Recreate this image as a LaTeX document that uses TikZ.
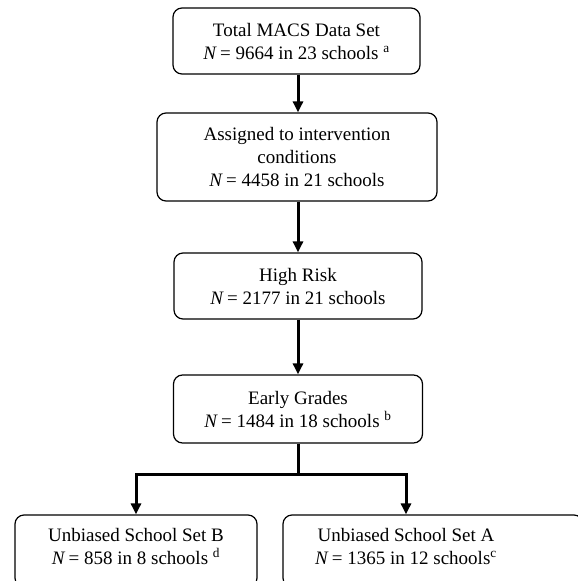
\documentclass[tikz,border=0pt]{standalone}
\usepackage{fontspec}
\setmainfont{Liberation Serif}
\usepackage{tikz}
\usetikzlibrary{positioning,arrows.meta}

\begin{document}
\begin{tikzpicture}[x=1pt,y=-1pt,>={Triangle[length=11pt,width=10pt]},line width=3pt,
  box/.style={draw,line width=1.2pt,rounded corners=9pt,align=center,inner sep=0pt,
    font=\fontsize{19}{23}\selectfont},
  txt/.style={align=center,inner sep=0pt,font=\fontsize{19}{23}\selectfont}]

    \useasboundingbox (0,0) rectangle (578,581);
    \clip (0,0) rectangle (578,581);

    % The boxes
	\node [box,minimum width=247pt,minimum height=66pt] at (296.5,41) (total)
	  {Total MACS Data Set\\\textit{N}\,= 9664 in 23 schools \textsuperscript{a}};
	\node [box,minimum width=280pt,minimum height=88pt] at (297,157) (assigned)
	  {Assigned to intervention\\conditions\\\textit{N}\,= 4458 in 21 schools};
	\node [box,minimum width=248pt,minimum height=66pt] at (298,286) (risk)
	  {High Risk\\\textit{N}\,= 2177 in 21 schools};
	\node [box,minimum width=249pt,minimum height=68pt] at (298,409) (early)
	  {Early Grades\\\textit{N}\,= 1484 in 18 schools \textsuperscript{b}};

	\node [box,minimum width=242pt,minimum height=72pt] at (136,551) (setB) {};
	\node [txt] at (136,546) (setBtxt)
	  {Unbiased School Set B\\\textit{N}\,= 858 in 8 schools \textsuperscript{d}};
	\node [box,minimum width=300pt,minimum height=72pt] at (433,551) (setA) {};
	\node [txt] at (406,546) (setAtxt)
	  {Unbiased School Set A\\\textit{N}\,= 1365 in 12 schools\textsuperscript{c}};

	\coordinate (split) at (298,474);

	% Arrows
	\draw[->] (total.south -| 298,0) -- (assigned.north -| 298,0);
	\draw[->] (assigned.south -| 298,0) -- (risk.north);
	\draw[->] (risk.south) -- (early.north);
	\draw (early.south) -- (split);
	\draw[->] (split) -| (setB.north);
	\draw[->] (split) -| (setA.north -| setAtxt);

\end{tikzpicture}
\end{document}
